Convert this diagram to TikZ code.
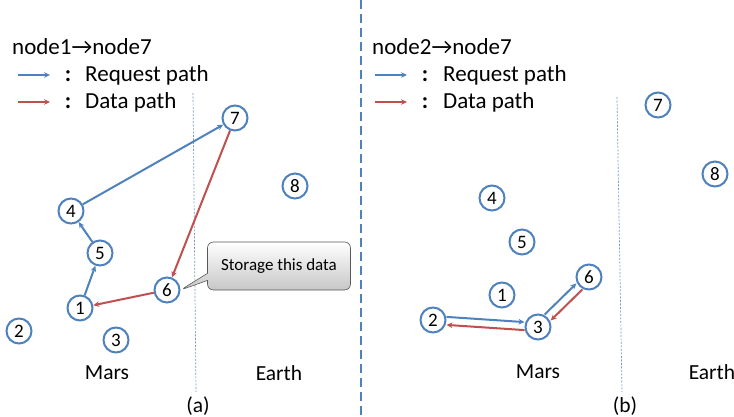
\documentclass[tikz,border=0pt]{standalone}
\usepackage{fontspec}
\setmainfont{Carlito}
\usetikzlibrary{arrows.meta,shapes.callouts}

\definecolor{peerblue}{RGB}{79,129,189}
\definecolor{datared}{RGB}{192,80,77}

\tikzset{
  peer/.style={circle,draw=peerblue,line width=2pt,fill=white,
    minimum size=25pt,inner sep=0pt,font=\fontsize{19}{19}\selectfont},
  req/.style={peerblue,line width=2pt,-{Stealth[length=6pt,width=5.5pt]}},
  dat/.style={datared,line width=2pt,-{Stealth[length=6pt,width=5.5pt]}},
  orbit/.style={peerblue!80,line width=0.7pt,dash pattern=on 2pt off 1.5pt},
  txt/.style={font=\fontsize{23}{23}\selectfont,inner sep=0pt},
  planet/.style={font=\fontsize{21.5}{21.5}\selectfont,inner sep=0pt}
}

\begin{document}
\begin{tikzpicture}[x=1pt,y=-1pt]
  \useasboundingbox (0,0) rectangle (734,417);

  % separator between the two cases
  \draw[peerblue,line width=2.4pt,dash pattern=on 9pt off 5pt] (361,0) -- (361,417);

  % ---- case (a) ----
  \node[txt,anchor=west] (ta) at (12,47) {node1→node7};
  \coordinate (ra0) at (18,75);  \coordinate (ra1) at (50,75);
  \coordinate (da0) at (18,102); \coordinate (da1) at (50,102);
  \draw[req] (ra0) -- (ra1);
  \draw[dat] (da0) -- (da1);
  \node[txt] (ca1) at (68,76) {\textbf{:}};
  \node[txt] (ca2) at (68,103) {\textbf{:}};
  \node[txt,anchor=west] (rqa) at (85,75) {Request path};
  \node[txt,anchor=west] (dpa) at (85,102) {Data path};

  \draw[orbit] (193,93) -- (196,392);

  \node[peer] (a1) at (80,308) {1};
  \node[peer] (a2) at (19,331) {2};
  \node[peer] (a3) at (116,340) {3};
  \node[peer] (a4) at (71,211) {4};
  \node[peer] (a5) at (100,253) {5};
  \node[peer] (a6) at (167,290) {6};
  \node[peer] (a7) at (235,118) {7};
  \node[peer] (a8) at (295,186) {8};

  \draw[req] (a1) -- (a5);
  \draw[req] (a5) -- (a4);
  \draw[req] (a4) -- (a7);
  \draw[dat] (a7) -- (a6);
  \draw[dat] (a6) -- (a1);

  \node[rectangle callout,callout absolute pointer={(a6.east)},
    draw=black!65,line width=0.6pt,rounded corners=6pt,
    top color=white,bottom color=black!22,
    minimum width=143pt,minimum height=48pt,
    font=\fontsize{17}{17}\selectfont] (keep) at (279,266) {Storage this data};

  \node[planet] (marsa) at (107,373) {Mars};
  \node[planet] (eartha) at (279,373) {Earth};
  \node[planet] (capa) at (198,406) {(a)};

  % ---- case (b) ----
  \node[txt,anchor=west] (tb) at (372,47) {node2→node7};
  \coordinate (rb0) at (375,75);  \coordinate (rb1) at (407,75);
  \coordinate (db0) at (375,102); \coordinate (db1) at (407,102);
  \draw[req] (rb0) -- (rb1);
  \draw[dat] (db0) -- (db1);
  \node[txt] (cb1) at (425,76) {\textbf{:}};
  \node[txt] (cb2) at (425,103) {\textbf{:}};
  \node[txt,anchor=west] (rqb) at (443,75) {Request path};
  \node[txt,anchor=west] (dpb) at (443,102) {Data path};

  \draw[orbit] (617,97) -- (622,392);

  \node[peer] (b1) at (502,295) {1};
  \node[peer] (b2) at (433,320) {2};
  \node[peer] (b3) at (538,327) {3};
  \node[peer] (b4) at (492,198) {4};
  \node[peer] (b5) at (522,242) {5};
  \node[peer] (b6) at (589,277) {6};
  \node[peer] (b7) at (658,105) {7};
  \node[peer] (b8) at (715,174) {8};

  \draw[req,transform canvas={yshift=4pt}] (b2) -- (b3);
  \draw[req,transform canvas={xshift=-3pt,yshift=3pt}] (b3) -- (b6);
  \draw[dat,transform canvas={xshift=3pt,yshift=-3pt}] (b6) -- (b3);
  \draw[dat,transform canvas={yshift=-4pt}] (b3) -- (b2);

  \node[planet] (marsb) at (538,372) {Mars};
  \node[planet] (earthb) at (712,372) {Earth};
  \node[planet] (capb) at (625,406) {(b)};
\end{tikzpicture}
\end{document}
